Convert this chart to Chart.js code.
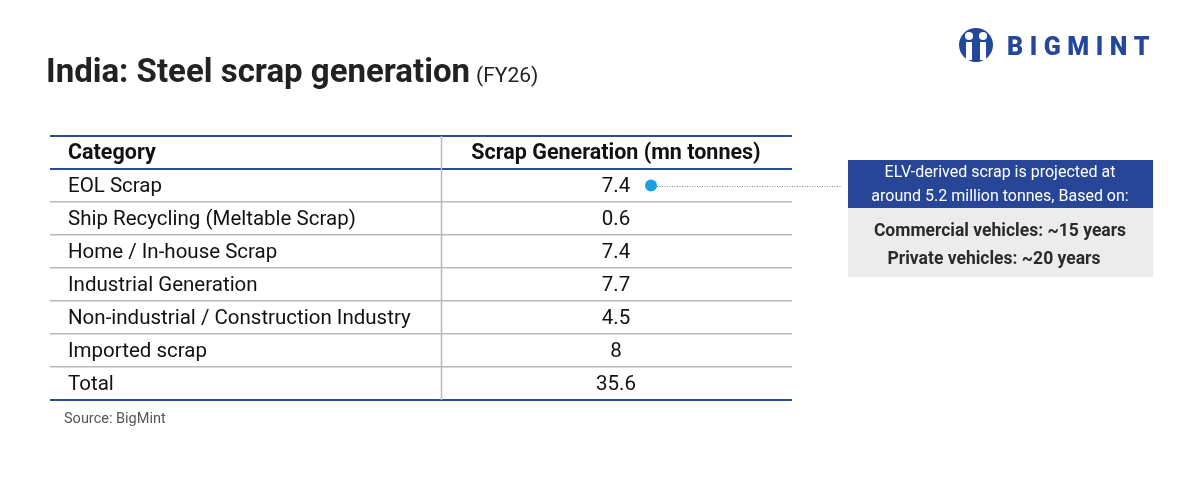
<!DOCTYPE html>
<html>
<head>
<meta charset="utf-8">
<script src="https://cdn.jsdelivr.net/npm/chart.js@4.4.0/dist/chart.umd.min.js"></script>
<style>
  html, body { margin: 0; padding: 0; background: #fff; }
  #wrap { width: 1200px; height: 482px; position: relative; }
</style>
</head>
<body>
<div id="wrap"><canvas id="c"></canvas></div>
<script>
// table content
var headers = ['Category', 'Scrap Generation (mn tonnes)'];
var categories = ['EOL Scrap', 'Ship Recycling (Meltable Scrap)', 'Home / In-house Scrap',
                  'Industrial Generation', 'Non-industrial / Construction Industry', 'Imported scrap', 'Total'];
var values = [7.4, 0.6, 7.4, 7.7, 4.5, 8, 35.6];
var highlighted = 'EOL Scrap';
var noteTitle = ['ELV-derived scrap is projected at', 'around 5.2 million tonnes, Based on:'];
var noteLines = ['Commercial vehicles: ~15 years', 'Private vehicles: ~20 years'];

// layout (x scale runs 0..742 across the table width)
var TABLE_W = 742, DIVIDER = 391, LABEL_X = 18, VALUE_X = 566, DOT_X = 601;
var FONT = 'Roboto, "Liberation Sans", sans-serif';
var BLUE = '#2a4a9c', GREY = '#b8b8b8';

var rows = ['__header'].concat(categories);

function drawLogo(ctx) {
  ctx.save();
  ctx.fillStyle = '#23479b';
  ctx.beginPath(); ctx.arc(976, 45, 17, 0, Math.PI * 2); ctx.fill();
  ctx.fillStyle = '#fff';
  ctx.beginPath(); ctx.arc(969, 36, 4, 0, Math.PI * 2); ctx.fill();
  ctx.beginPath(); ctx.arc(983, 36, 4, 0, Math.PI * 2); ctx.fill();
  ctx.fillRect(966, 42, 6, 18);
  ctx.fillRect(980, 42, 6, 18);
  ctx.fillStyle = '#23479b';
  ctx.beginPath(); ctx.moveTo(973, 62); ctx.lineTo(976, 50); ctx.lineTo(979, 62); ctx.fill();
  ctx.font = '900 25px ' + FONT;
  ctx.textBaseline = 'middle';
  ctx.textAlign = 'left';
  var word = 'BIGMINT', x = 1007;
  for (var i = 0; i < word.length; i++) {
    ctx.fillText(word[i], x, 49);
    x += ctx.measureText(word[i]).width + 6.5;
  }
  ctx.restore();
}

var tablePlugin = {
  id: 'tableText',
  beforeDatasetsDraw: function (chart) {
    var ctx = chart.ctx, xs = chart.scales.x, ys = chart.scales.y;
    var dx = Math.round(xs.getPixelForValue(DIVIDER)) + 0.5;
    ctx.save();
    ctx.strokeStyle = GREY;
    ctx.lineWidth = 1.5;
    ctx.beginPath(); ctx.moveTo(dx, ys.top); ctx.lineTo(dx, ys.bottom); ctx.stroke();
    ctx.restore();
  },
  afterDatasetsDraw: function (chart) {
    var ctx = chart.ctx, xs = chart.scales.x, ys = chart.scales.y;
    ctx.save();
    ctx.textBaseline = 'middle';
    // header row
    var hy = ys.getPixelForValue(0) + 1;
    ctx.fillStyle = '#111';
    ctx.font = 'bold 21.5px ' + FONT;
    ctx.textAlign = 'left';
    ctx.fillText(headers[0], xs.getPixelForValue(LABEL_X), hy);
    ctx.textAlign = 'center';
    ctx.fillText(headers[1], xs.getPixelForValue(VALUE_X), hy);
    // body rows
    ctx.font = '20.5px ' + FONT;
    var pts = chart.getDatasetMeta(0).data;
    pts.forEach(function (p, i) {
      ctx.textAlign = 'left';
      ctx.fillText(categories[i], xs.getPixelForValue(LABEL_X), p.y + 1);
      ctx.textAlign = 'center';
      ctx.fillText(String(values[i]), p.x, p.y + 1);
    });
    // leader from the highlight dot to the note
    var dot = chart.getDatasetMeta(1).data[0];
    ctx.strokeStyle = '#8a8a8a';
    ctx.lineWidth = 1;
    ctx.setLineDash([1, 1.5]);
    ctx.beginPath(); ctx.moveTo(dot.x + 6, Math.round(dot.y) + 0.5); ctx.lineTo(842, Math.round(dot.y) + 0.5); ctx.stroke();
    ctx.restore();
  },
  afterDraw: function (chart) {
    var ctx = chart.ctx;
    ctx.save();
    // title
    ctx.textBaseline = 'alphabetic';
    ctx.textAlign = 'left';
    ctx.fillStyle = '#222';
    ctx.font = 'bold 33px ' + FONT;
    var t = 'India: Steel scrap generation';
    ctx.fillText(t, 46, 82);
    var tw = ctx.measureText(t).width;
    ctx.font = '21px ' + FONT;
    ctx.fillText('(FY26)', 46 + tw + 6, 82);
    // source
    ctx.fillStyle = '#555';
    ctx.font = '14.5px ' + FONT;
    ctx.fillText('Source: BigMint', 64, 423);
    // note box
    ctx.fillStyle = '#274698';
    ctx.fillRect(848, 160, 305, 48);
    ctx.fillStyle = '#ececec';
    ctx.fillRect(848, 208, 305, 69);
    ctx.textAlign = 'center';
    ctx.textBaseline = 'middle';
    ctx.fillStyle = '#fff';
    ctx.font = '16px ' + FONT;
    ctx.fillText(noteTitle[0], 1000, 173);
    ctx.fillText(noteTitle[1], 1000, 197);
    ctx.fillStyle = '#2a2a2a';
    ctx.font = 'bold 17.5px ' + FONT;
    ctx.fillText(noteLines[0], 1000, 232);
    ctx.fillText(noteLines[1], 994, 260);
    ctx.restore();
    drawLogo(ctx);
  }
};

new Chart(document.getElementById('c'), {
  type: 'scatter',
  data: {
    labels: rows,
    datasets: [
      {
        data: categories.map(function (c) { return { x: VALUE_X, y: c }; }),
        pointRadius: 0,
        pointHoverRadius: 0
      },
      {
        data: [{ x: DOT_X, y: highlighted }],
        pointRadius: 6,
        pointHoverRadius: 6,
        borderWidth: 0,
        backgroundColor: '#1aa0e2'
      }
    ]
  },
  options: {
    responsive: true,
    maintainAspectRatio: false,
    animation: false,
    events: [],
    layout: { padding: { left: 50, right: 408, top: 136, bottom: 82 } },
    plugins: { legend: { display: false }, tooltip: { enabled: false } },
    scales: {
      x: { type: 'linear', min: 0, max: TABLE_W, display: false },
      y: {
        type: 'category',
        labels: rows,
        offset: true,
        ticks: { display: false },
        border: { display: false },
        grid: {
          offset: true,
          drawTicks: false,
          color: function (c) {
            if (c.type !== 'tick') return BLUE;
            return c.index <= 1 ? BLUE : GREY;
          },
          lineWidth: function (c) {
            if (c.type !== 'tick') return 2;
            return c.index <= 1 ? 2 : 1.5;
          }
        }
      }
    }
  },
  plugins: [tablePlugin]
});
</script>
</body>
</html>
